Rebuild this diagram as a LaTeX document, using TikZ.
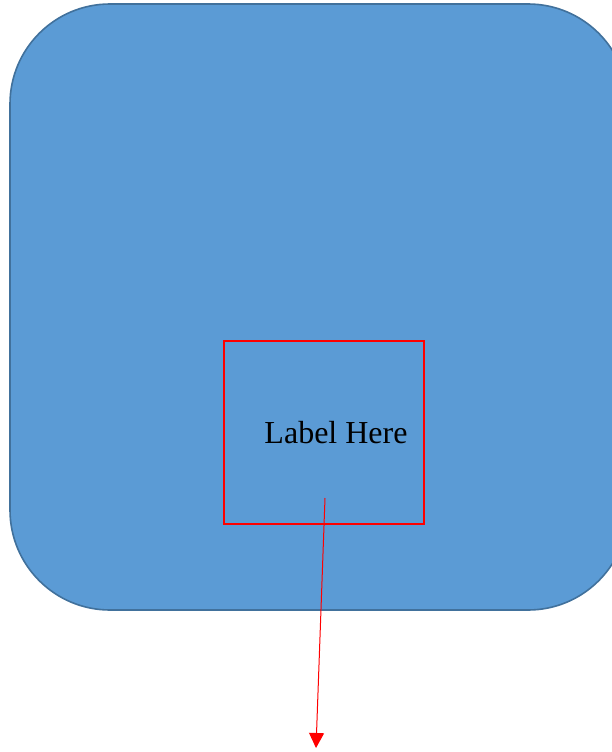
\documentclass[tikz,border=0pt]{standalone}
\usepackage{fontspec}
\setmainfont{Liberation Serif}
\usetikzlibrary{arrows.meta}
\definecolor{boxfill}{HTML}{5B9BD5}
\definecolor{boxline}{HTML}{41719C}
\tikzset{
  bigbox/.style={fill=boxfill, draw=boxline, line width=1.6pt, rounded corners=100pt},
  redbox/.style={draw=red, line width=2pt},
  lbl/.style={font=\fontsize{32}{36}\selectfont, text=black, inner sep=0pt, anchor=base},
  redarrow/.style={draw=red, line width=1pt, -{Triangle[length=15pt,width=15pt]}}
}
\begin{document}
\begin{tikzpicture}[x=1pt,y=-1pt]
\useasboundingbox (0,0) rectangle (612,752);
\clip (0,0) rectangle (612,752);
\draw[bigbox] (10,4) rectangle (628,610);
\node[redbox, minimum width=200pt, minimum height=183pt, inner sep=0pt] (frame) at (324,432) {};
\node[lbl] (label) at (336,443) {Label Here};
\coordinate (start) at (325,498);
\coordinate (tip) at (316,748);
\draw[redarrow] (start) -- (tip);
\end{tikzpicture}
\end{document}
